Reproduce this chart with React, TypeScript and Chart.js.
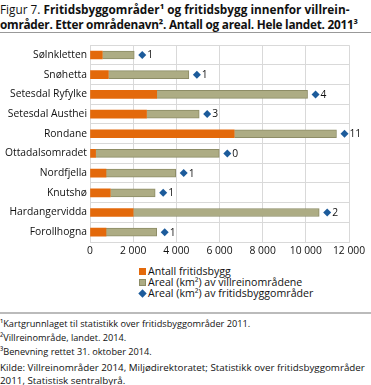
import React, { useEffect, useRef } from "react";
import { Chart, registerables } from "chart.js";

Chart.register(...registerables);

const categories = [
  "Sølnkletten",
  "Snøhetta",
  "Setesdal Ryfylke",
  "Setesdal Austhei",
  "Rondane",
  "Ottadalsomradet",
  "Nordfjella",
  "Knutshø",
  "Hardangervidda",
  "Forollhogna",
];
const antallFritidsbygg = [570, 850, 3090, 2620, 6680, 260, 740, 940, 2000, 740];
const arealVillrein = [1480, 3730, 6990, 2440, 4740, 5730, 3230, 2080, 8620, 2350];
const arealFritidsbyggomrader = [1, 1, 4, 3, 11, 0, 1, 1, 2, 1];
const xTicks = [0, 2000, 4000, 6000, 8000, 10000, 12000];

const FONT = "'Open Sans', 'DejaVu Sans', sans-serif";
const FS = 10.3;
const ORANGE = "#e3690b";
const OLIVE = "#adac84";
const OLIVE_BORDER = "#8d8c66";
const BLUE = "#1c5b9b";
const GRID = "#d9d9d9";

const fmt = (v: number) => String(v).replace(/\B(?=(\d{3})+(?!\d))/g, " ");

const diamondPlugin = {
  id: "diamonds",
  afterDatasetsDraw(chart: any) {
    const meta = chart.getDatasetMeta(1);
    const ctx = chart.ctx;
    ctx.save();
    meta.data.forEach((bar: any, i: number) => {
      const cx = bar.x + 8;
      const cy = bar.y;
      const r = 4;
      ctx.beginPath();
      ctx.moveTo(cx, cy - r);
      ctx.lineTo(cx + r, cy);
      ctx.lineTo(cx, cy + r);
      ctx.lineTo(cx - r, cy);
      ctx.closePath();
      ctx.fillStyle = BLUE;
      ctx.fill();
      ctx.fillStyle = "#111";
      ctx.font = `${FS}px ${FONT}`;
      ctx.textBaseline = "middle";
      ctx.textAlign = "left";
      ctx.fillText(String(arealFritidsbyggomrader[i]), cx + 5, cy + 0.5);
    });
    ctx.restore();
  },
};

function ChartBox() {
  const ref = useRef<HTMLCanvasElement>(null);
  useEffect(() => {
    if (!ref.current) return;
    const chart = new Chart(ref.current, {
      type: "bar",
      data: {
        labels: categories,
        datasets: [
          {
            label: "Antall fritidsbygg",
            data: antallFritidsbygg,
            backgroundColor: ORANGE,
            borderWidth: 0,
            barThickness: 8,
          },
          {
            label: "Areal (km²) av villreinområdene",
            data: arealVillrein,
            backgroundColor: OLIVE,
            borderColor: OLIVE_BORDER,
            borderWidth: 1,
            borderSkipped: "start",
            barThickness: 8,
          },
        ],
      },
      options: {
        indexAxis: "y",
        responsive: false,
        animation: false,
        layout: { padding: { top: 9, right: 22, left: 0, bottom: 0 } },
        plugins: { legend: { display: false }, tooltip: { enabled: false } },
        scales: {
          x: {
            stacked: true,
            min: 0,
            max: 12000,
            afterBuildTicks: (scale: any) => {
              scale.ticks = xTicks.map((v) => ({ value: v }));
            },
            afterFit: (scale: any) => {
              scale.height = 20;
            },
            grid: { color: GRID, drawTicks: false },
            border: { color: GRID },
            ticks: {
              padding: 3,
              color: "#111",
              font: { family: FONT, size: FS },
              callback: (v: any) => fmt(Number(v)),
              maxRotation: 0,
            },
          },
          y: {
            stacked: true,
            afterFit: (scale: any) => {
              scale.width = 90;
            },
            grid: { color: GRID, drawTicks: false, offset: true },
            border: { color: GRID },
            ticks: {
              padding: 3,
              color: "#111",
              font: { family: FONT, size: FS },
            },
          },
        },
      },
      plugins: [diamondPlugin],
    } as any);
    return () => chart.destroy();
  }, []);
  return <canvas ref={ref} width={371} height={226} style={{ position: "absolute", left: 0, top: 36 }} />;
}

export default function App() {
  useEffect(() => {
    document.body.style.margin = "0";
  }, []);
  const text: React.CSSProperties = { position: "absolute", left: 0, fontFamily: FONT, color: "#111", whiteSpace: "nowrap" };
  const legendItem = (top: number, marker: React.ReactNode, label: string) => (
    <div style={{ ...text, left: 139, top, fontSize: 10.6, lineHeight: "11px", display: "flex", alignItems: "center" }}>
      {marker}
      <span style={{ marginLeft: 2 }}>{label}</span>
    </div>
  );
  const sq = (c: string, b?: string) => (
    <span style={{ display: "inline-block", width: 7, height: 7, background: c, border: b ? `1px solid ${b}` : "none", boxSizing: "border-box" }} />
  );
  const dia = (
    <span style={{ display: "inline-block", width: 7, height: 7, background: BLUE, transform: "rotate(45deg) scale(0.85)" }} />
  );
  return (
    <div style={{ position: "relative", width: 371, height: 385, background: "#fff", overflow: "hidden" }}>
      <div style={{ ...text, top: 2, fontSize: 11.8, lineHeight: "15px" }}>
        Figur 7. <b>Fritidsbyggområder¹ og fritidsbygg innenfor villrein-</b>
        <br />
        <b style={{ letterSpacing: "-0.25px" }}>områder. Etter områdenavn². Antall og areal. Hele landet. 2011³</b>
      </div>
      <div style={{ position: "absolute", left: 0, top: 32, width: 371, height: 1, background: "#999" }} />
      <ChartBox />
      {legendItem(266, sq(ORANGE), "Antall fritidsbygg")}
      {legendItem(277, sq(OLIVE, OLIVE_BORDER), "Areal (km²) av villreinområdene")}
      {legendItem(288, dia, "Areal (km²) av fritidsbyggområder")}
      <div style={{ position: "absolute", left: 0, top: 312, width: 371, height: 2, background: "#bbb" }} />
      <div style={{ ...text, top: 317, fontSize: 9.2, lineHeight: "14px" }}>
        ¹Kartgrunnlaget til statistikk over fritidsbyggområder 2011.
        <br />
        ²Villreinområde, landet. 2014.
        <br />
        ³Benevning rettet 31. oktober 2014.
      </div>
      <div style={{ ...text, top: 361, fontSize: 9.8, lineHeight: "13px" }}>
        Kilde: Villreinområder 2014, Miljødirektoratet; Statistikk over fritidsbyggområder
        <br />
        2011, Statistisk sentralbyrå.
      </div>
    </div>
  );
}
